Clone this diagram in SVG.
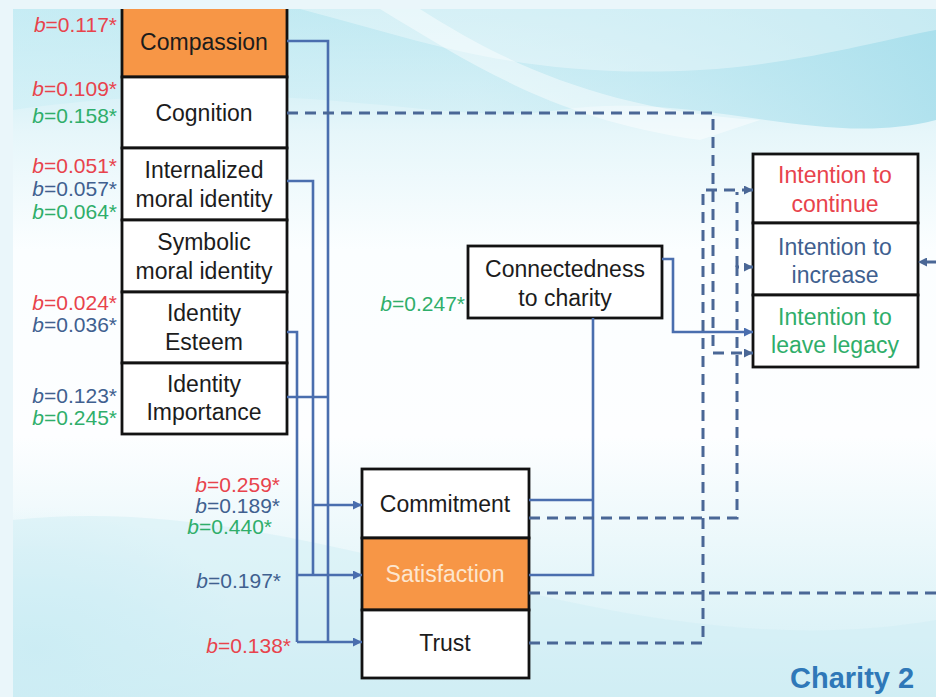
<svg xmlns="http://www.w3.org/2000/svg" width="936" height="697" viewBox="0 0 936 697">
  <defs>
    <style>
      .box { fill: #ffffff; stroke: #121212; stroke-width: 2.8; }
      .orange { fill: #F79646; }
      .t { font-family: "Liberation Sans", Arial, sans-serif; font-size: 23px; fill: #1c1c1c; text-anchor: middle; }
      .lbl { font-family: "Liberation Sans", Arial, sans-serif; font-size: 21px; text-anchor: end; }
      .red { fill: #E8434C; }
      .blue { fill: #40608F; }
      .green { fill: #2FAE6A; }
      .pale { fill: #FDE6CF; }
      .solid { fill: none; stroke: #4A6EAE; stroke-width: 2.6; }
      .dash { fill: none; stroke: #4A6796; stroke-width: 3; stroke-dasharray: 11 7; }
      .title { font-family: "Liberation Sans", Arial, sans-serif; font-size: 29px; font-weight: bold; fill: #2F78B8; }
    </style>
    <marker id="arrS" markerUnits="userSpaceOnUse" markerWidth="9" markerHeight="9" refX="9" refY="4.5" orient="auto">
      <path d="M0,0 L9,4.5 L0,9 z" fill="#4A6EAE"/>
    </marker>
    <marker id="arrD" markerUnits="userSpaceOnUse" markerWidth="9" markerHeight="9" refX="9" refY="4.5" orient="auto">
      <path d="M0,0 L9,4.5 L0,9 z" fill="#4A6796"/>
    </marker>
    <linearGradient id="bgV" x1="0" y1="0" x2="0" y2="1">
      <stop offset="0" stop-color="#BDE8F1"/>
      <stop offset="0.18" stop-color="#E6F6FA"/>
      <stop offset="0.35" stop-color="#FBFEFF"/>
      <stop offset="0.62" stop-color="#FDFEFF"/>
      <stop offset="0.85" stop-color="#E3F5F9"/>
      <stop offset="1" stop-color="#D2EEF5"/>
    </linearGradient>
    <linearGradient id="topH" x1="0" y1="0" x2="1" y2="0">
      <stop offset="0" stop-color="#CDEFF6" stop-opacity="0.6"/>
      <stop offset="0.5" stop-color="#C4EAF3" stop-opacity="0.35"/>
      <stop offset="1" stop-color="#A4DDEB" stop-opacity="0.8"/>
    </linearGradient>
    <radialGradient id="blGlow" cx="0.05" cy="0.85" r="0.45">
      <stop offset="0" stop-color="#C9ECF5" stop-opacity="0.9"/>
      <stop offset="1" stop-color="#C9ECF5" stop-opacity="0"/>
    </radialGradient>
    <clipPath id="slide">
      <rect x="13" y="9" width="923" height="688"/>
    </clipPath>
  </defs>

  <!-- page margin -->
  <rect x="0" y="0" width="936" height="697" fill="#EAF6FA"/>

  <g clip-path="url(#slide)">
    <!-- backdrop -->
    <g id="backdrop">
      <rect x="13" y="9" width="923" height="688" fill="url(#bgV)"/>
      <path d="M13,9 H936 V120 C820,150 700,90 560,110 C430,128 300,70 13,110 Z" fill="url(#topH)"/>
      <path d="M300,9 C420,40 520,80 700,70 C800,64 880,40 936,30 V9 Z" fill="#ffffff" opacity="0.35"/>
      <path d="M420,9 C500,60 600,110 760,120 L700,140 C560,120 480,70 380,9 Z" fill="#ffffff" opacity="0.45"/>
      <rect x="13" y="380" width="460" height="317" fill="url(#blGlow)"/>
      <path d="M13,520 C200,500 380,560 560,600 C700,630 820,640 936,620 V697 H13 Z" fill="#CFEDF5" opacity="0.45"/>
    </g>

    <!-- left column: predictors -->
    <g id="compassion">
      <rect class="box orange" x="122" y="0" width="165" height="77"/>
      <text class="t" x="204" y="50">Compassion</text>
    </g>
    <g id="cognition">
      <rect class="box" x="122" y="77" width="165" height="71"/>
      <text class="t" x="204" y="121">Cognition</text>
    </g>
    <g id="internalized">
      <rect class="box" x="122" y="148" width="165" height="72"/>
      <text class="t" x="204" y="178">Internalized</text>
      <text class="t" x="204" y="207">moral identity</text>
    </g>
    <g id="symbolic">
      <rect class="box" x="122" y="220" width="165" height="72"/>
      <text class="t" x="204" y="250">Symbolic</text>
      <text class="t" x="204" y="279">moral identity</text>
    </g>
    <g id="esteem">
      <rect class="box" x="122" y="292" width="165" height="71"/>
      <text class="t" x="204" y="321">Identity</text>
      <text class="t" x="204" y="350">Esteem</text>
    </g>
    <g id="importance">
      <rect class="box" x="122" y="363" width="165" height="71"/>
      <text class="t" x="204" y="392">Identity</text>
      <text class="t" x="204" y="420">Importance</text>
    </g>

    <!-- mediators -->
    <g id="commitment">
      <rect class="box" x="362" y="469" width="167" height="69"/>
      <text class="t" x="445" y="512">Commitment</text>
    </g>
    <g id="satisfaction">
      <rect class="box orange" x="362" y="538" width="167" height="72"/>
      <text class="t pale" x="445" y="582">Satisfaction</text>
    </g>
    <g id="trust">
      <rect class="box" x="362" y="610" width="167" height="68"/>
      <text class="t" x="445" y="651">Trust</text>
    </g>
    <g id="connectedness">
      <rect class="box" x="468" y="246" width="194" height="72"/>
      <text class="t" x="565" y="277">Connectedness</text>
      <text class="t" x="565" y="306">to charity</text>
    </g>

    <!-- outcomes -->
    <g id="continue">
      <rect class="box" x="753" y="154" width="165" height="69"/>
      <text class="t red" x="835" y="183">Intention to</text>
      <text class="t red" x="835" y="212">continue</text>
    </g>
    <g id="increase">
      <rect class="box" x="753" y="223" width="165" height="72"/>
      <text class="t blue" x="835" y="255">Intention to</text>
      <text class="t blue" x="835" y="283">increase</text>
    </g>
    <g id="legacy">
      <rect class="box" x="753" y="295" width="165" height="72"/>
      <text class="t green" x="835" y="325">Intention to</text>
      <text class="t green" x="835" y="353">leave legacy</text>
    </g>

    <!-- connectors -->
    <g id="connectors">
      <!-- solid paths -->
      <path class="solid" d="M287,41 H328 V642"/>
      <path class="solid" d="M287,181 H313 V575"/>
      <path class="solid" d="M287,332 H297 V642"/>
      <path class="solid" d="M287,397 H328"/>
      <path class="solid" d="M313,505 H362" marker-end="url(#arrS)"/>
      <path class="solid" d="M297,575 H362" marker-end="url(#arrS)"/>
      <path class="solid" d="M297,642 H362" marker-end="url(#arrS)"/>
      <path class="solid" d="M529,500 H593"/>
      <path class="solid" d="M529,575 H593 V318"/>
      <path class="solid" d="M662,259 H673 V332 H753" marker-end="url(#arrS)"/>
      <!-- dashed paths -->
      <path class="dash" d="M287,113 H713 V353 H753" marker-end="url(#arrD)"/>
      <path class="dash" d="M529,643 H703 V190 H753" marker-end="url(#arrD)"/>
      <path class="dash" d="M529,518 H737 V267 H753" marker-end="url(#arrD)"/>
      <path class="dash" d="M737,267 V192"/>
      <path class="dash" d="M529,593 H936"/>
      <path class="dash" d="M936,262 H918" marker-end="url(#arrD)"/>
    </g>

    <!-- path coefficients -->
    <g id="coefficients">
      <text class="lbl red" x="117" y="32"><tspan font-style="italic">b</tspan>=0.117*</text>
      <text class="lbl red" x="117" y="96"><tspan font-style="italic">b</tspan>=0.109*</text>
      <text class="lbl green" x="117" y="123"><tspan font-style="italic">b</tspan>=0.158*</text>
      <text class="lbl red" x="117" y="173"><tspan font-style="italic">b</tspan>=0.051*</text>
      <text class="lbl blue" x="117" y="196"><tspan font-style="italic">b</tspan>=0.057*</text>
      <text class="lbl green" x="117" y="219"><tspan font-style="italic">b</tspan>=0.064*</text>
      <text class="lbl red" x="117" y="310"><tspan font-style="italic">b</tspan>=0.024*</text>
      <text class="lbl blue" x="117" y="332"><tspan font-style="italic">b</tspan>=0.036*</text>
      <text class="lbl blue" x="117" y="403"><tspan font-style="italic">b</tspan>=0.123*</text>
      <text class="lbl green" x="117" y="425"><tspan font-style="italic">b</tspan>=0.245*</text>
      <text class="lbl green" x="465" y="311"><tspan font-style="italic">b</tspan>=0.247*</text>
      <text class="lbl red" x="280" y="492"><tspan font-style="italic">b</tspan>=0.259*</text>
      <text class="lbl blue" x="280" y="513"><tspan font-style="italic">b</tspan>=0.189*</text>
      <text class="lbl green" x="272" y="534"><tspan font-style="italic">b</tspan>=0.440*</text>
      <text class="lbl blue" x="281" y="588"><tspan font-style="italic">b</tspan>=0.197*</text>
      <text class="lbl red" x="291" y="653"><tspan font-style="italic">b</tspan>=0.138*</text>
    </g>

    <text class="title" x="790" y="688">Charity 2</text>
  </g>
</svg>
